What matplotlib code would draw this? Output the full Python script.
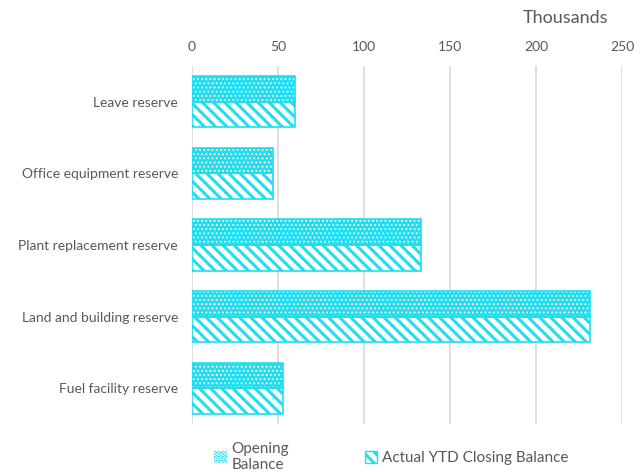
import numpy as np
import matplotlib.pyplot as plt
from matplotlib.patches import Patch

categories = ['Leave reserve', 'Office equipment reserve', 'Plant replacement reserve',
              'Land and building reserve', 'Fuel facility reserve']
opening = [60, 47, 133, 231.5, 53]
closing = [60, 47, 133, 231.5, 53]
xticks = [0, 50, 100, 150, 200, 250]

cyan = '#22DDEE'
grey = '#595959'
plt.rcParams['font.family'] = ['Lato', 'DejaVu Sans']

fig = plt.figure(figsize=(6.41, 4.72), dpi=100)
ax = fig.add_axes([0.2995, 0.1017, 0.6708, 0.7585])

y = np.arange(len(categories))
h = 0.357

# opening balance: cyan with small white dots
plt.rcParams['hatch.linewidth'] = 0.8
ax.barh(y - h / 2, opening, height=h, color=cyan, edgecolor='white', hatch='....', linewidth=0, zorder=2)
h1 = Patch(facecolor=cyan, edgecolor='white', hatch='....', linewidth=0)
ax.barh(y - h / 2, opening, height=h, fill=False, edgecolor=cyan, linewidth=1.2, zorder=3)
# closing balance: white with cyan diagonal stripes
plt.rcParams['hatch.linewidth'] = 2.2
ax.barh(y + h / 2, closing, height=h, color='white', edgecolor=cyan, hatch='\\\\\\', linewidth=1.2, zorder=2)
h2 = Patch(facecolor='white', edgecolor=cyan, hatch='\\\\\\')

ax.set_ylim(4.5, -0.5)
ax.set_xlim(0, 250)
ax.set_xticks(xticks)
ax.set_yticks(y)
ax.set_yticklabels(categories)
ax.xaxis.tick_top()
ax.tick_params(axis='x', length=0, pad=9, labelsize=10, colors=grey)
ax.tick_params(axis='y', length=0, pad=10, labelsize=10, colors=grey)
ax.grid(axis='x', color='#D9D9D9', linewidth=1.2, zorder=0)
ax.set_axisbelow(True)
for s in ax.spines.values():
    s.set_visible(False)

fig.text(0.882, 0.962, 'Thousands', ha='center', va='center', fontsize=13, color=grey)

fig.legend([h1, h2], ['Opening\nBalance', 'Actual YTD Closing Balance'], loc='upper left',
           bbox_to_anchor=(0.325, 0.077), ncol=2, frameon=False, fontsize=11,
           labelcolor=grey, handlelength=0.8, handleheight=0.8, handletextpad=0.3,
           columnspacing=5.0, borderaxespad=0)

fig.savefig('out.png', dpi=100)
